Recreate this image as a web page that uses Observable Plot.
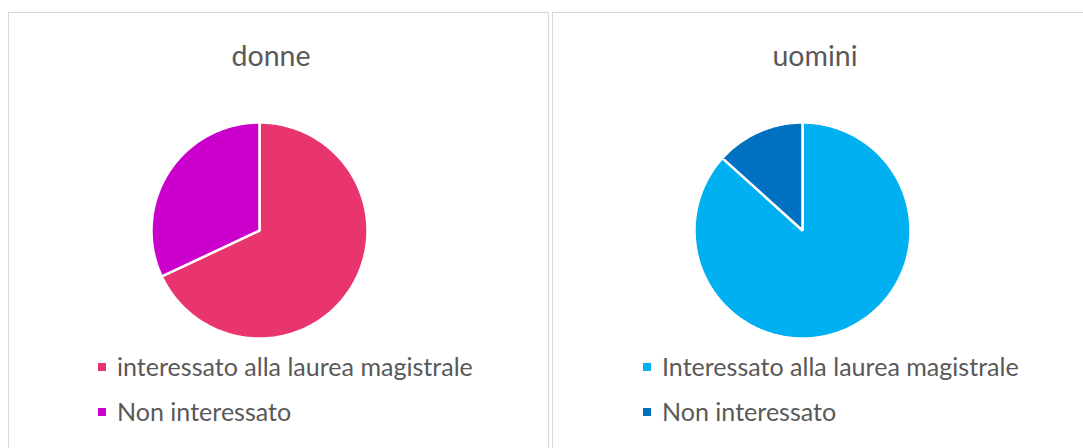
<!DOCTYPE html>
<html><head><meta charset="utf-8">
<script src="https://cdn.jsdelivr.net/npm/d3@7"></script>
<script src="https://cdn.jsdelivr.net/npm/@observablehq/plot@0.6"></script>
<style>
html,body{margin:0;padding:0;background:#fff}
body{width:1083px;height:448px;overflow:hidden;position:relative;font-family:Lato,"Liberation Sans",sans-serif;color:#595959}
.panel{position:absolute;top:12px;height:470px;border:1.5px solid #d9d9d9;box-sizing:border-box}
.title{position:absolute;white-space:nowrap;line-height:1;transform:translateX(-50%)}
.pie{position:absolute}
.leg{position:absolute;white-space:nowrap;line-height:1;display:flex;align-items:center}
.sw{display:inline-block;width:8px;height:8px;margin-right:11px;flex:none}
</style></head><body>
<script>
// ---- data ----
const titles = ["donne", "uomini"];
const categoriesDonne = ["interessato alla laurea magistrale", "Non interessato"];
const valuesDonne = [68, 32];
const colorsDonne = ["#E9356E", "#CC00CC"];
const categoriesUomini = ["Interessato alla laurea magistrale", "Non interessato"];
const valuesUomini = [86.7, 13.3];
const colorsUomini = ["#00B0F0", "#0070C0"];

// ---- layout ----
const panels = [
  {left: 8, width: 541, titleX: 271, pieX: 259, legX: 98, cats: categoriesDonne, vals: valuesDonne, cols: colorsDonne, title: titles[0]},
  {left: 552, width: 545, titleX: 815, pieX: 802, legX: 643, cats: categoriesUomini, vals: valuesUomini, cols: colorsUomini, title: titles[1]}
];
const pieY = 230, R = 108, S = 2 * R + 4;

function pieChart(categories, values, colors) {
  const arcs = d3.pie().sort(null)(values);
  const pts = [];
  arcs.forEach((a, i) => {
    const cat = categories[i];
    pts.push({cat, x: 0, y: 0});
    const n = Math.max(2, Math.ceil((a.endAngle - a.startAngle) / (Math.PI / 180)));
    for (let k = 0; k <= n; k++) {
      const t = a.startAngle + (a.endAngle - a.startAngle) * k / n;
      pts.push({cat, x: Math.sin(t), y: Math.cos(t)});
    }
  });
  return Plot.plot({
    width: S, height: S, margin: 2,
    style: {background: "transparent", overflow: "visible"},
    x: {domain: [-1, 1], axis: null},
    y: {domain: [-1, 1], axis: null},
    color: {domain: categories, range: colors},
    marks: [
      Plot.line(pts, {x: "x", y: "y", z: "cat", fill: "cat", stroke: "white", strokeWidth: 2.5, strokeLinejoin: "miter", curve: "linear-closed"})
    ]
  });
}

function fitFont(el, target, base) {
  el.style.fontSize = base + "px";
  const w = el.getBoundingClientRect().width;
  return base * target / w;
}

for (const p of panels) {
  const panel = document.createElement("div");
  panel.className = "panel";
  panel.style.left = p.left + "px";
  panel.style.width = p.width + "px";
  document.body.appendChild(panel);
}

// titles
const titleEls = panels.map(p => {
  const t = document.createElement("div");
  t.className = "title";
  t.textContent = p.title;
  t.style.left = p.titleX + "px";
  document.body.appendChild(t);
  return t;
});
const tSize = fitFont(titleEls[0], 79, 30);
titleEls.forEach(t => { t.style.fontSize = tSize + "px"; t.style.top = (66.7 - 0.887 * tSize) + "px"; });

// pies
for (const p of panels) {
  const svg = pieChart(p.cats, p.vals, p.cols);
  svg.classList.add("pie");
  svg.style.left = (p.pieX - S / 2) + "px";
  svg.style.top = (pieY - S / 2) + "px";
  document.body.appendChild(svg);
}

// legends
const legEls = [];
for (const p of panels) {
  p.cats.forEach((c, i) => {
    const row = document.createElement("div");
    row.className = "leg";
    const sw = document.createElement("span");
    sw.className = "sw";
    sw.style.background = p.cols[i];
    const tx = document.createElement("span");
    tx.textContent = c;
    row.appendChild(sw); row.appendChild(tx);
    row.style.left = p.legX + "px";
    document.body.appendChild(row);
    legEls.push({row, tx, i});
  });
}
const lSize = fitFont(legEls[0].tx, 356, 22);
legEls.forEach(({row, tx, i}) => {
  tx.style.fontSize = lSize + "px";
  row.style.height = lSize + "px";
  const baseline = i === 0 ? 376.7 : 421.7;
  row.style.top = (baseline - 0.887 * lSize) + "px";
});
</script>
</body></html>
